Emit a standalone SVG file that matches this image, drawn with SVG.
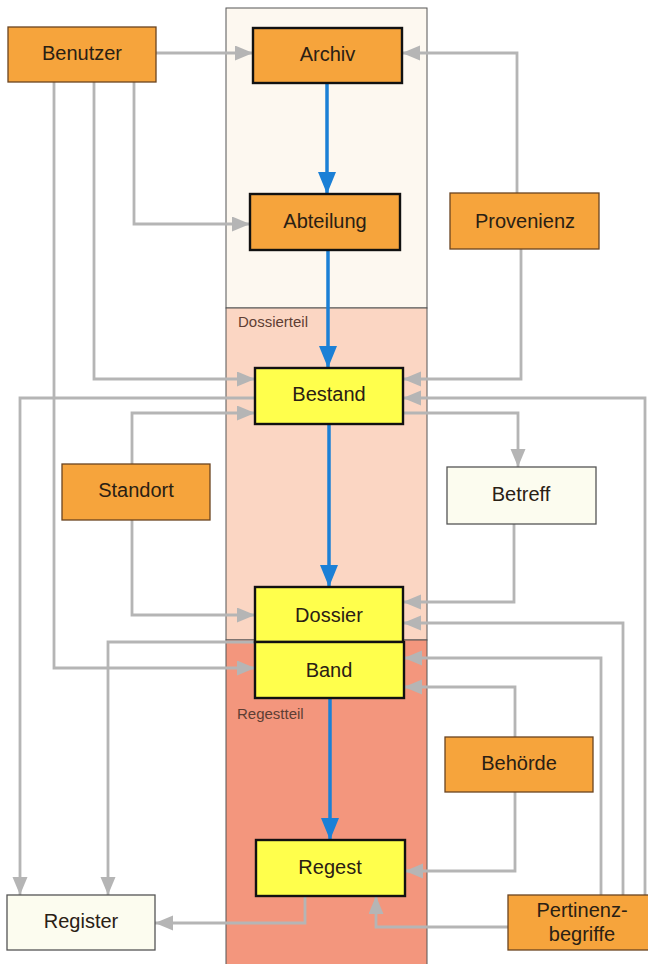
<svg xmlns="http://www.w3.org/2000/svg" width="648" height="964" viewBox="0 0 648 964">
<style>
.bg{fill:#ffffff}
.orange{fill:#f6a43c;stroke:#6a4420;stroke-width:1.3}
.yellow{fill:#ffff4c;stroke:#111;stroke-width:2.4}
.core{fill:#f6a43c;stroke:#111;stroke-width:2.4}
.cream{fill:#fcfcef;stroke:#555;stroke-width:1.3}
.t{font-family:"Liberation Sans",Arial,sans-serif;font-size:20px;fill:#2a2014;text-anchor:middle}
.lab{font-family:"Liberation Sans",Arial,sans-serif;font-size:15px;fill:#5e3e34}
.g{fill:none;stroke:#b5b5b5;stroke-width:2.8;marker-end:url(#ga)}
.b{fill:none;stroke:#1b80d6;stroke-width:3.5;marker-end:url(#ba)}
</style>
<defs>
<marker id="ga" markerUnits="userSpaceOnUse" markerWidth="19" markerHeight="16" refX="18" refY="7.5" orient="auto" viewBox="0 0 19 16">
<path d="M0,0 L18,7.5 L0,15 z" fill="#b5b5b5"/>
</marker>
<marker id="ba" markerUnits="userSpaceOnUse" markerWidth="23" markerHeight="19" refX="22" refY="9" orient="auto" viewBox="0 0 23 19">
<path d="M0,0 L22,9 L0,18 z" fill="#1b80d6"/>
</marker>
</defs>
<rect class="bg" x="0" y="0" width="648" height="964"/>
<g id="column">
<rect x="226" y="8" width="201" height="300" fill="#fdf8f0" stroke="#555" stroke-width="1"/>
<rect x="226" y="308" width="201" height="332" fill="#fbd6c3" stroke="#555" stroke-width="1"/>
<rect x="226" y="640" width="201" height="330" fill="#f3967d" stroke="#555" stroke-width="1"/>
<text class="lab" x="238" y="327">Dossierteil</text>
<text class="lab" x="237" y="719">Regestteil</text>
</g>
<g id="connectors">
<path class="b" d="M327,83 V194"/>
<path class="b" d="M328,250 V368"/>
<path class="b" d="M329,424 V587"/>
<path class="b" d="M330,698 V840"/>
<path class="g" d="M156,53 H253"/>
<path class="g" d="M134,82 V224 H250"/>
<path class="g" d="M94,82 V379 H255"/>
<path class="g" d="M54,82 V668 H255"/>
<path class="g" d="M517,193 V53 H402"/>
<path class="g" d="M521,249 V379 H403"/>
<path class="g" d="M255,398 H20 V895"/>
<path class="g" d="M132,464 V413 H255"/>
<path class="g" d="M403,413 H518 V467"/>
<path class="g" d="M645,895 V398 H403"/>
<path class="g" d="M132,520 V615 H255"/>
<path class="g" d="M514,524 V602 H403"/>
<path class="g" d="M623,895 V623 H403"/>
<path class="g" d="M255,642 H108 V895"/>
<path class="g" d="M601,895 V658 H404"/>
<path class="g" d="M515,737 V687 H404"/>
<path class="g" d="M515,792 V871 H405"/>
<path class="g" d="M305,896 V923 H155"/>
<path class="g" d="M508,927 H376 V896"/>
</g>
<g id="benutzer"><rect class="orange" x="8" y="27" width="148" height="55"/><text class="t" x="82" y="60">Benutzer</text></g>
<g id="archiv"><rect class="core" x="253" y="28" width="149" height="55"/><text class="t" x="327.5" y="61">Archiv</text></g>
<g id="abteilung"><rect class="core" x="250" y="194" width="150" height="56"/><text class="t" x="325" y="228">Abteilung</text></g>
<g id="provenienz"><rect class="orange" x="450" y="193" width="149" height="56"/><text class="t" x="525" y="228">Provenienz</text></g>
<g id="bestand"><rect class="yellow" x="255" y="368" width="148" height="56"/><text class="t" x="329" y="401">Bestand</text></g>
<g id="standort"><rect class="orange" x="62" y="464" width="148" height="56"/><text class="t" x="136" y="497">Standort</text></g>
<g id="betreff"><rect class="cream" x="447" y="467" width="149" height="57"/><text class="t" x="521" y="501">Betreff</text></g>
<g id="dossier"><rect class="yellow" x="255" y="587" width="148" height="55"/><text class="t" x="329" y="622">Dossier</text></g>
<g id="band"><rect class="yellow" x="255" y="642" width="149" height="56"/><text class="t" x="329" y="677">Band</text></g>
<g id="behoerde"><rect class="orange" x="445" y="737" width="148" height="55"/><text class="t" x="519" y="770">Behörde</text></g>
<g id="regest"><rect class="yellow" x="256" y="840" width="149" height="56"/><text class="t" x="330" y="874">Regest</text></g>
<g id="register"><rect class="cream" x="7" y="895" width="148" height="55"/><text class="t" x="81" y="928">Register</text></g>
<g id="pertinenz"><rect class="orange" x="508" y="895" width="144" height="55"/><text class="t" x="582" y="917">Pertinenz-</text><text class="t" x="582" y="941">begriffe</text></g>
</svg>
